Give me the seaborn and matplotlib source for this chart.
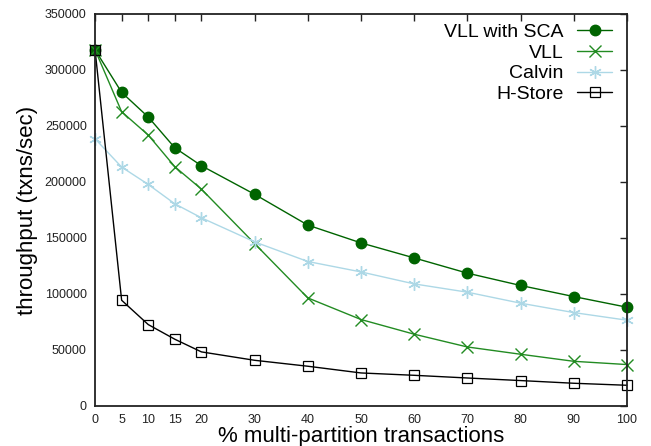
import numpy as np
import pandas as pd
import seaborn as sns
import matplotlib
matplotlib.use("Agg")
import matplotlib.pyplot as plt

# % multi-partition transactions
x_pct = [0, 5, 10, 15, 20, 30, 40, 50, 60, 70, 80, 90, 100]

# throughput (txns/sec)
vll_sca = [318000, 280000, 258000, 230500, 214500, 189000, 161500, 145600, 132200, 118600, 107600, 97700, 88200]
vll = [318000, 262700, 241900, 213600, 193600, 145000, 96500, 77200, 64100, 52700, 46200, 39900, 37000]
calvin = [238600, 213300, 197800, 180500, 168000, 146500, 129000, 119700, 109000, 101600, 91800, 83400, 76600]
hstore = [318000, 94400, 72700, 59600, 48300, 40800, 35500, 29500, 27400, 25000, 22700, 20300, 18500]

series_names = ["VLL with SCA", "VLL", "Calvin", "H-Store"]
series_values = [vll_sca, vll, calvin, hstore]

y_ticks = np.arange(0, 350001, 50000)


def plot_throughput():
    sns.set_theme(style="white")
    plt.rcParams['font.family'] = ['Liberation Sans', 'DejaVu Sans']

    fig = plt.figure(figsize=(6.51, 4.46), dpi=100)
    ax = fig.add_axes([0.146, 0.0897, 0.817, 0.879])

    styles = {
        "VLL with SCA": dict(color="#006400", marker="o", markersize=7.5, mfc="#006400", mec="#006400", mew=1.0),
        "VLL": dict(color="#228B22", marker="x", markersize=8, mec="#228B22", mew=1.0),
        "Calvin": dict(color="#ADD8E6", marker=(6, 2, 0), markersize=9, mec="#ADD8E6", mew=1.0),
        "H-Store": dict(color="black", marker="s", markersize=7.5, mfc="none", mec="black", mew=0.9),
    }

    for name, vals in zip(series_names, series_values):
        df = pd.DataFrame({"x": x_pct, "y": vals})
        st = styles[name]
        sns.lineplot(data=df, x="x", y="y", ax=ax, label=name, linewidth=1.0,
                     clip_on=False, zorder=3, **st)

    ax.set_xlim(0, 100)
    ax.set_ylim(0, 350000)
    ax.set_xticks(x_pct)
    ax.set_xticklabels([str(v) for v in x_pct])
    ax.set_yticks(y_ticks)
    ax.set_yticklabels([str(v) for v in y_ticks])
    ax.tick_params(axis="both", which="both", direction="in", length=5, width=1,
                   top=True, right=True, labelsize=9, color="#222222", labelcolor="#222222")
    ax.tick_params(axis="y", pad=6)
    ax.tick_params(axis="x", pad=6)

    for sp in ax.spines.values():
        sp.set_visible(True)
        sp.set_color("#222222")
        sp.set_linewidth(1.3)
        sp.set_zorder(4)

    ax.set_xlabel("% multi-partition transactions", fontsize=16, labelpad=0, color="black")
    ax.set_ylabel("throughput (txns/sec)", fontsize=16, labelpad=5, color="black")

    leg = ax.legend(loc="upper right", bbox_to_anchor=(0.9906, 1.0), frameon=False,
                    markerfirst=False, fontsize=14,
                    handlelength=1.8, handletextpad=0.7, labelspacing=0.15,
                    borderaxespad=0.45, borderpad=0.05)
    for t in leg.get_texts():
        t.set_color("black")

    fig.savefig("out.png", dpi=100)


if __name__ == "__main__":
    plot_throughput()
